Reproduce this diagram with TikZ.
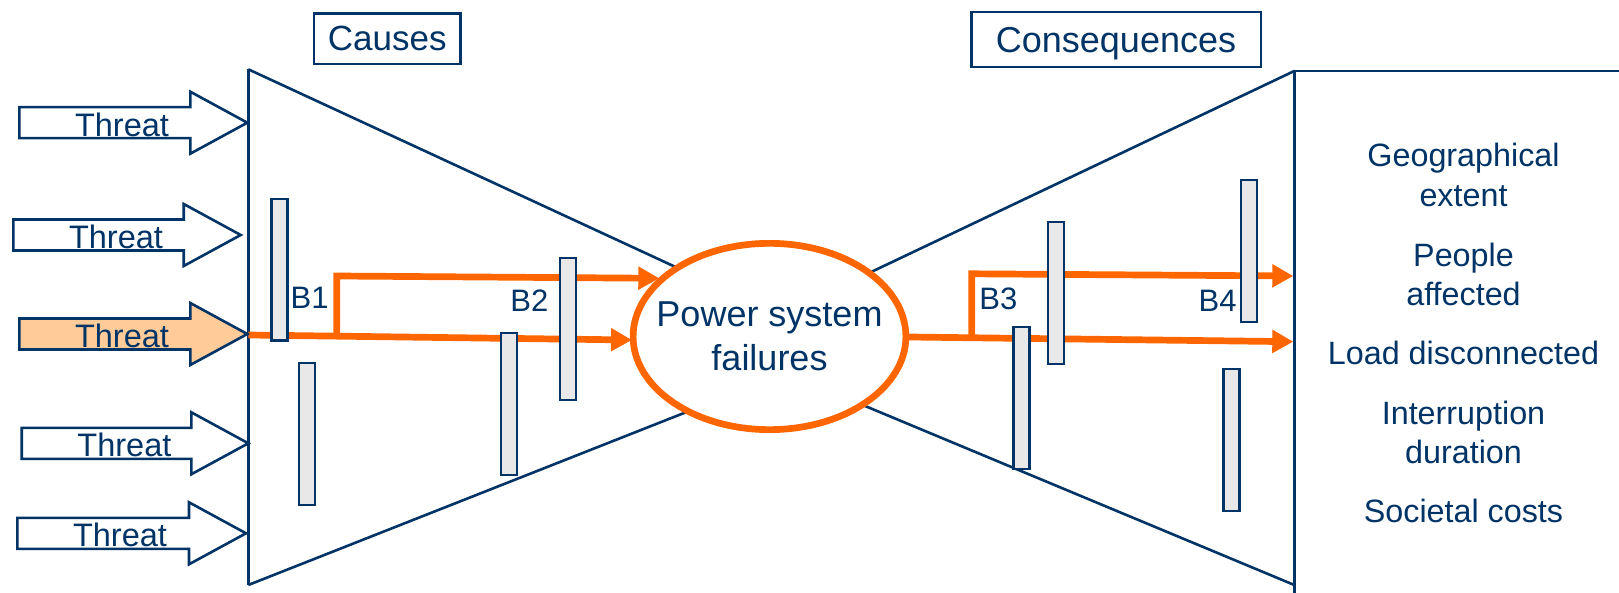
\documentclass[tikz,border=0pt]{standalone}
\usepackage{fontspec}
\setmainfont{Liberation Sans}
\usetikzlibrary{arrows.meta,shapes.geometric}
\definecolor{navy}{RGB}{0,51,102}
\definecolor{orng}{RGB}{255,102,0}
\definecolor{peach}{RGB}{255,204,153}
\definecolor{barfill}{RGB}{232,232,232}

\newcommand{\ThreatArrow}[5]{% name, tail x, tip x, tip y, fill
  \draw[threatbody,fill=#5] (#2,#4-15.5) -- (#3-57,#4-15.5) -- (#3-57,#4-31) -- (#3,#4)
     -- (#3-57,#4+31) -- (#3-57,#4+15.5) -- (#2,#4+15.5) -- cycle;
  \node[threattext] (#1) at (#2+102.7,#4+13.4) {Threat};
}

\begin{document}
\begin{tikzpicture}[x=1pt,y=-1pt,
  outline/.style={draw=navy,line width=2.6pt,line join=miter},
  threatbody/.style={draw=navy,line width=2.6pt,line join=miter},
  threattext/.style={anchor=base,inner sep=0pt,text=navy,font=\fontsize{32.5}{39}\selectfont},
  flowline/.style={draw=orng,line width=6.7pt,line join=miter},
  flow/.style={flowline,-{Triangle[length=21pt,width=22pt]}},
  barrier/.style={rectangle,draw=navy,fill=barfill,line width=2.3pt,inner sep=0pt,
                  minimum width=16pt,minimum height=141.7pt},
  blabel/.style={anchor=base west,inner sep=0pt,text=navy,font=\fontsize{31}{37}\selectfont},
  header/.style={rectangle,draw=navy,line width=2.5pt,inner sep=0pt,text=navy,text depth=0pt},
  conseq/.style={inner sep=0pt,text=navy,align=center},
]
\useasboundingbox (0,0) rectangle (1619,593);
\fill[white] (0,0) rectangle (1619,593);

% left (causes) triangle
\coordinate (ltop) at (248.3,69.3);
\coordinate (lbot) at (248.3,585);
\coordinate (lapex) at (849.7,347.6);
\draw[outline] (ltop) -- (lbot);
\draw[outline] (ltop) -- (lapex);
\draw[outline] (lbot) -- (lapex);

% right (consequences) triangle and frame
\coordinate (rtop) at (1294.3,71);
\coordinate (rbot) at (1294.3,585);
\coordinate (rend) at (1294.3,593);
\coordinate (redge) at (1619,71);
\coordinate (rapex) at (718.1,344.7);
\draw[outline] (redge) -- (rtop) -- (rend);
\draw[outline] (rtop) -- (rapex);
\draw[outline] (rbot) -- (rapex);

% orange flow paths
\coordinate (o1) at (248.3,335);
\coordinate (o1e) at (632,340);
\coordinate (o2a) at (336.7,336.2);
\coordinate (o2b) at (336.7,276);
\coordinate (o2e) at (659.3,278.3);
\coordinate (o3) at (909,337);
\coordinate (o3e) at (1293.3,341.7);
\coordinate (o4a) at (971.7,337.8);
\coordinate (o4b) at (971.7,273.8);
\coordinate (o4e) at (1293.3,276);
\draw[flow] (o1) -- (o1e);
\draw[flow] (o2a) -- (o2b) -- (o2e);
\draw[flow] (o3) -- (o3e);
\draw[flow] (o4a) -- (o4b) -- (o4e);

% top event
\node[ellipse,draw=orng,line width=6.7pt,fill=white,inner sep=0pt,
      minimum width=272.8pt,minimum height=186.3pt] (psf) at (769.5,336.5) {};
\node[inner sep=0pt,align=center,text=navy,font=\fontsize{36}{44}\selectfont]
  (psftext) at (psf.center) {Power system\\failures};

% barriers
\node[barrier] (b1a) at (279.5,269.7) {};
\node[barrier] (b1b) at (307.2,433.9) {};
\node[barrier] (b2b) at (509.2,403.9) {};
\node[barrier] (b2a) at (568.2,328.9) {};
\node[barrier] (b3b) at (1021.5,397.9) {};
\node[barrier] (b3a) at (1055.9,293) {};
\node[barrier] (b4a) at (1249.2,251) {};
\node[barrier] (b4b) at (1231.5,440) {};

\node[blabel] (lb1) at (290.5,309) {B1};
\node[blabel] (lb2) at (510.2,311.7) {B2};
\node[blabel] (lb3) at (979.2,310) {B3};
\node[blabel] (lb4) at (1198.5,311.7) {B4};

% threats
\ThreatArrow{t1}{19.3}{247.3}{122.7}{white}
\ThreatArrow{t2}{13.3}{240.7}{235}{white}
\ThreatArrow{t3}{19.3}{247.3}{334}{peach}
\ThreatArrow{t4}{21.7}{248.3}{443.3}{white}
\ThreatArrow{t5}{17.3}{246}{533.3}{white}

% headers
\node[header,minimum width=146.4pt,minimum height=50.2pt,font=\fontsize{35}{42}\selectfont]
  (causes) at (387.2,38.7) {Causes};
\node[header,minimum width=289.5pt,minimum height=55.1pt,font=\fontsize{36}{43}\selectfont]
  (consequences) at (1116,39.5) {Consequences};

% consequence list
\node[conseq,font=\fontsize{32.3}{40}\selectfont] (geo) at (1463.5,174.9) {Geographical\\extent};
\node[conseq,font=\fontsize{32.3}{39}\selectfont] (people) at (1463.5,274.5) {People\\affected};
\node[conseq,anchor=base,font=\fontsize{32.3}{39}\selectfont] (load) at (1463.5,365) {Load disconnected};
\node[conseq,font=\fontsize{32.3}{39}\selectfont] (interr) at (1463.5,432.8) {Interruption\\duration};
\node[conseq,anchor=base,font=\fontsize{32.3}{39}\selectfont] (soc) at (1463.5,522.3) {Societal costs};
\end{tikzpicture}
\end{document}
